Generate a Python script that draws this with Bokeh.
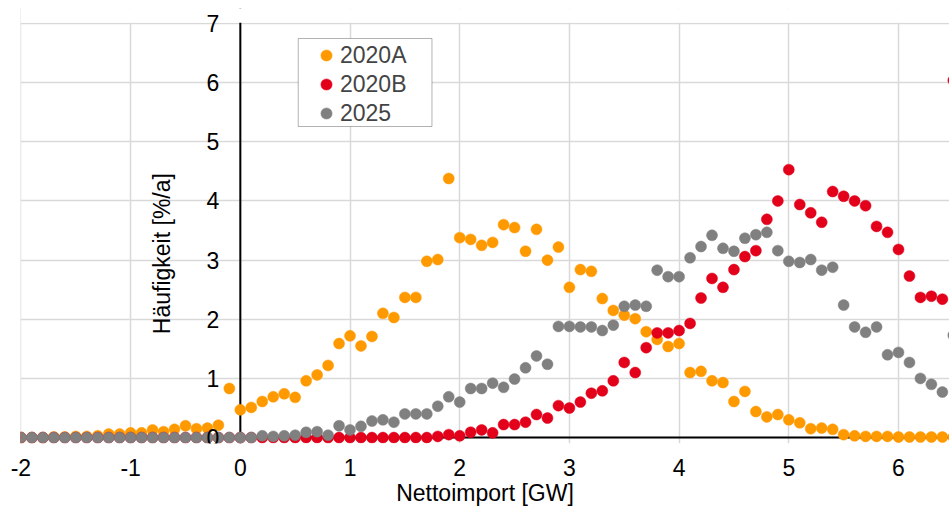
import math
from bokeh.plotting import figure
from bokeh.models import (Span, Label, Legend, LegendItem, FixedTicker, Range1d,
                          BoxAnnotation, PrintfTickFormatter)
from bokeh.embed import file_html
from bokeh.resources import INLINE

# ---- data ----
x_vals = [-2.0, -1.9, -1.8, -1.7, -1.6, -1.5, -1.4, -1.3, -1.2, -1.1,
          -1.0, -0.9, -0.8, -0.7, -0.6, -0.5, -0.4, -0.3, -0.2, -0.1,
          0.0, 0.1, 0.2, 0.3, 0.4, 0.5, 0.6, 0.7, 0.8, 0.9,
          1.0, 1.1, 1.2, 1.3, 1.4, 1.5, 1.6, 1.7, 1.8, 1.9,
          2.0, 2.1, 2.2, 2.3, 2.4, 2.5, 2.6, 2.7, 2.8, 2.9,
          3.0, 3.1, 3.2, 3.3, 3.4, 3.5, 3.6, 3.7, 3.8, 3.9,
          4.0, 4.1, 4.2, 4.3, 4.4, 4.5, 4.6, 4.7, 4.8, 4.9,
          5.0, 5.1, 5.2, 5.3, 5.4, 5.5, 5.6, 5.7, 5.8, 5.9,
          6.0, 6.1, 6.2, 6.3, 6.4, 6.5]

y_2020A = [0, 0, 0, 0.01, 0.01, 0.02, 0.02, 0.03, 0.06, 0.06,
           0.08, 0.08, 0.13, 0.10, 0.14, 0.20, 0.15, 0.16, 0.21, 0.83,
           0.47, 0.51, 0.61, 0.69, 0.74, 0.68, 0.96, 1.06, 1.22, 1.59,
           1.72, 1.55, 1.71, 2.10, 2.03, 2.37, 2.37, 2.98, 3.01, 4.38,
           3.38, 3.35, 3.25, 3.30, 3.60, 3.55, 3.15, 3.52, 3.00, 3.22,
           2.54, 2.84, 2.81, 2.35, 2.15, 2.07, 2.01, 1.79, 1.66, 1.54,
           1.59, 1.10, 1.12, 0.96, 0.93, 0.61, 0.78, 0.44, 0.35, 0.39,
           0.30, 0.25, 0.15, 0.16, 0.14, 0.05, 0.03, 0.02, 0.02, 0.02,
           0.01, 0.01, 0.01, 0.01, 0.01, 0.01]

y_2020B = [0, 0, 0, 0, 0, 0, 0, 0, 0, 0,
           0, 0, 0, 0, 0, 0, 0, 0, 0, 0,
           0, 0, 0, 0, 0, 0, 0, 0, 0, 0,
           0, 0, 0, 0, 0, 0, 0, 0, 0.02, 0.05,
           0.03, 0.09, 0.13, 0.08, 0.22, 0.22, 0.26, 0.39, 0.33, 0.54,
           0.50, 0.60, 0.75, 0.79, 0.96, 1.27, 1.10, 1.52, 1.77, 1.77,
           1.81, 1.93, 2.36, 2.69, 2.54, 2.84, 3.06, 3.16, 3.69, 4.00,
           4.53, 3.94, 3.80, 3.64, 4.16, 4.08, 4.00, 3.92, 3.57, 3.47,
           3.18, 2.73, 2.37, 2.39, 2.34, 6.04]

y_2025 = [0, 0, 0, 0, 0, 0, 0, 0, 0, 0,
          0, 0, 0, 0, 0, 0, 0, 0, 0, 0,
          0, 0, 0.03, 0.02, 0.03, 0.04, 0.09, 0.10, 0.04, 0.20,
          0.13, 0.19, 0.28, 0.30, 0.26, 0.40, 0.40, 0.40, 0.53, 0.69,
          0.60, 0.83, 0.83, 0.92, 0.85, 0.99, 1.18, 1.38, 1.24, 1.88,
          1.88, 1.87, 1.87, 1.81, 1.90, 2.22, 2.24, 2.22, 2.83, 2.72,
          2.72, 3.04, 3.23, 3.42, 3.20, 3.15, 3.37, 3.43, 3.47, 3.16,
          2.98, 2.96, 3.01, 2.83, 2.88, 2.24, 1.87, 1.78, 1.87, 1.40,
          1.44, 1.27, 1.00, 0.90, 0.77, 1.73]

series_names = ["2020A", "2020B", "2025"]
series_colors = ["#FF9900", "#E2001A", "#808080"]

x_ticks = [-2, -1, 0, 1, 2, 3, 4, 5, 6]
y_ticks = [0, 1, 2, 3, 4, 5, 6, 7]
y_max = 7

x_title = "Nettoimport [GW]"
y_title = "Häufigkeit [%/a]"

FONT = "Liberation Sans"
FS = "23px"

p = figure(width=949, height=508, output_backend="svg", toolbar_location=None,
           x_range=Range1d(-2.004, 6.465), y_range=Range1d(-0.10, 7.254),
           min_border_left=20, min_border_right=0, min_border_top=8,
           min_border_bottom=0)
p.outline_line_color = None
p.background_fill_color = "white"
p.border_fill_color = "white"

# grid
p.xgrid.ticker = FixedTicker(ticks=x_ticks)
p.ygrid.ticker = FixedTicker(ticks=y_ticks)
for g in (p.xgrid, p.ygrid):
    g.grid_line_color = "#d9d9d9"
    g.grid_line_width = 1.5

# x axis (labels at bottom of the plot area)
xa = p.xaxis[0]
xa.ticker = FixedTicker(ticks=x_ticks)
xa.formatter = PrintfTickFormatter(format="%d")
xa.axis_line_color = None
xa.major_tick_line_color = None
xa.minor_tick_line_color = None
xa.major_label_text_font = FONT
xa.major_label_text_font_size = FS
xa.major_label_text_color = "black"
xa.major_label_standoff = 9
xa.axis_label = x_title
xa.axis_label_text_font = FONT
xa.axis_label_text_font_size = FS
xa.axis_label_text_font_style = "normal"
xa.axis_label_text_color = "black"
xa.axis_label_standoff = 1

# y axis crossing at x = 0
ya = p.yaxis[0]
ya.fixed_location = 0
ya.ticker = FixedTicker(ticks=y_ticks)
ya.formatter = PrintfTickFormatter(format="%d")
ya.axis_line_color = None
ya.major_tick_line_color = None
ya.minor_tick_line_color = None
ya.major_label_text_font = FONT
ya.major_label_text_font_size = FS
ya.major_label_text_color = "black"
ya.major_label_standoff = 15

# axis lines through the origin (under the markers)
p.add_layout(Span(location=0, dimension="width", line_color="black",
                  line_width=2, level="underlay"))
p.add_layout(Span(location=0, dimension="height", line_color="black",
                  line_width=2, level="underlay"))
# blank strip above the top of the value axis (room for the "7" label)
p.add_layout(BoxAnnotation(bottom=y_max + 0.015, fill_color="white", fill_alpha=1,
                           line_color=None, level="glyph"))

renderers = []
for name, ys, col in zip(series_names, [y_2020A, y_2020B, y_2025], series_colors):
    r = p.scatter(x_vals, ys, size=11, fill_color=col, line_color=col, line_width=0.5)
    renderers.append((name, r))

p.add_layout(Label(x=-0.71, y=3.11, text=y_title, angle=math.pi / 2,
                   text_align="center", text_baseline="middle",
                   text_font=FONT, text_font_size=FS, text_color="black"))

# legend frame
p.add_layout(BoxAnnotation(left=0.528, right=1.747, top=6.747, bottom=5.259,
                           fill_color="white", fill_alpha=1,
                           line_color="black", line_width=1, level="annotation"))

legend = Legend(items=[LegendItem(label=n, renderers=[r]) for n, r in renderers],
                location=(292, 316), orientation="vertical",
                border_line_color=None, background_fill_alpha=0,
                label_text_font=FONT, label_text_font_size=FS,
                padding=2, spacing=1, margin=0,
                glyph_width=28, glyph_height=28, label_height=28,
                label_standoff=0)
p.add_layout(legend)

open("out.html", "w").write(file_html(p, INLINE))
